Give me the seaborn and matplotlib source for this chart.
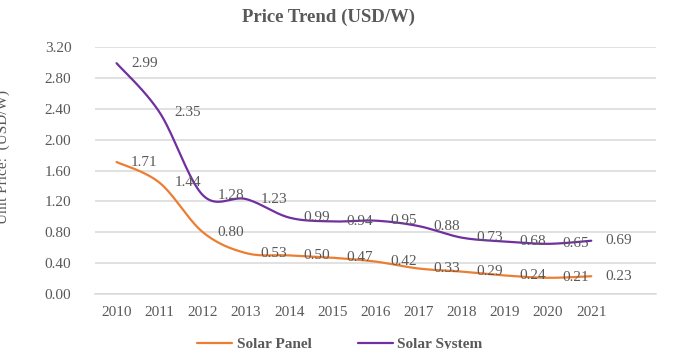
import numpy as np
import pandas as pd
import matplotlib
matplotlib.use("Agg")
import matplotlib.pyplot as plt
import seaborn as sns
from matplotlib.lines import Line2D

years = ["2010", "2011", "2012", "2013", "2014", "2015", "2016", "2017", "2018", "2019", "2020", "2021"]
solar_panel = [1.71, 1.44, 0.80, 0.53, 0.50, 0.47, 0.42, 0.33, 0.29, 0.24, 0.21, 0.23]
solar_system = [2.99, 2.35, 1.28, 1.23, 0.99, 0.94, 0.95, 0.88, 0.73, 0.68, 0.65, 0.69]
series_names = ["Solar Panel", "Solar System"]
colors = {"Solar Panel": "#ED7D31", "Solar System": "#7030A0"}
yticks = [0.0, 0.4, 0.8, 1.2, 1.6, 2.0, 2.4, 2.8, 3.2]

TEXT = "#595959"
GRID = "#D9D9D9"

sns.set_style("white")
plt.rcParams["font.family"] = ["Liberation Serif", "DejaVu Serif"]


def smooth_curve(xs, ys, n=30):
    P = np.column_stack([xs, ys]).astype(float)
    out = []
    m = len(P)
    for i in range(m - 1):
        p0 = P[i - 1] if i > 0 else P[i]
        p1 = P[i]
        p2 = P[i + 1]
        p3 = P[i + 2] if i + 2 < m else P[i + 1]
        c1 = p1 + (p2 - p0) / 6.0
        c2 = p2 - (p3 - p1) / 6.0
        t = np.linspace(0, 1, n, endpoint=(i == m - 2))[:, None]
        seg = (1 - t) ** 3 * p1 + 3 * (1 - t) ** 2 * t * c1 + 3 * (1 - t) * t ** 2 * c2 + t ** 3 * p2
        out.append(seg)
    out = np.vstack(out)
    return out[:, 0], out[:, 1]


pos = np.arange(len(years))
frames = []
for name, vals in zip(series_names, [solar_panel, solar_system]):
    sx, sy = smooth_curve(pos, vals)
    frames.append(pd.DataFrame({"x": sx, "y": sy, "series": name, "order": np.arange(len(sx))}))
df = pd.concat(frames, ignore_index=True)

fig = plt.figure(figsize=(6.86, 3.49), dpi=100)
ax = fig.add_axes([95 / 686, 1 - 294 / 349, (656 - 95) / 686, (294 - 47) / 349])

sns.lineplot(data=df, x="x", y="y", hue="series", palette=colors, sort=False,
             estimator=None, units="series", linewidth=1.6, legend=False, ax=ax)

ax.set_xlim(-0.5, len(years) + 0.5)
ax.set_ylim(0, 3.2)
ax.set_yticks(yticks)
ax.set_yticklabels([f"{v:.2f}" for v in yticks])
ax.set_xticks(pos)
ax.set_xticklabels(years)
ax.set_xticks(np.arange(-0.5, len(years) + 1, 1.0), minor=True)
ax.tick_params(axis="x", which="major", length=0, pad=9, labelsize=11, labelcolor=TEXT)
ax.tick_params(axis="x", which="minor", length=5, width=1, color=GRID, direction="out")
ax.tick_params(axis="y", length=0, pad=17, labelsize=11, labelcolor=TEXT)
ax.set_xlabel("")
ax.set_ylabel("")
ax.yaxis.grid(True, color=GRID, linewidth=1.1)
ax.set_axisbelow(True)
for s in ["top", "right", "left"]:
    ax.spines[s].set_visible(False)
ax.spines["bottom"].set_color(GRID)
ax.spines["bottom"].set_linewidth(1.1)

for vals in [solar_panel, solar_system]:
    for p, v in zip(pos, vals):
        ax.annotate(f"{v:.2f}", (p, v), xytext=(20, 0), textcoords="offset points",
                    ha="center", va="center", fontsize=11, color=TEXT)

fig.text(328 / 686, 1 - 17 / 349, "Price Trend (USD/W)", ha="center", va="center",
         fontsize=13.5, fontweight="bold", color=TEXT)
fig.text(3 / 686, 1 - 157 / 349, "Unit Price:  (USD/W)", rotation=90, ha="center",
         va="center", fontsize=11, color=TEXT)

handles = [Line2D([0], [0], color=colors[n], linewidth=1.6) for n in series_names]
leg = fig.legend(handles, series_names, loc="center", bbox_to_anchor=(340 / 686, 1 - 344 / 349),
                 ncol=2, frameon=False, handlelength=2.3, columnspacing=3.0, handletextpad=0.3,
                 prop={"size": 11, "weight": "bold"})
for t in leg.get_texts():
    t.set_color(TEXT)

fig.savefig("out.png", dpi=100)
